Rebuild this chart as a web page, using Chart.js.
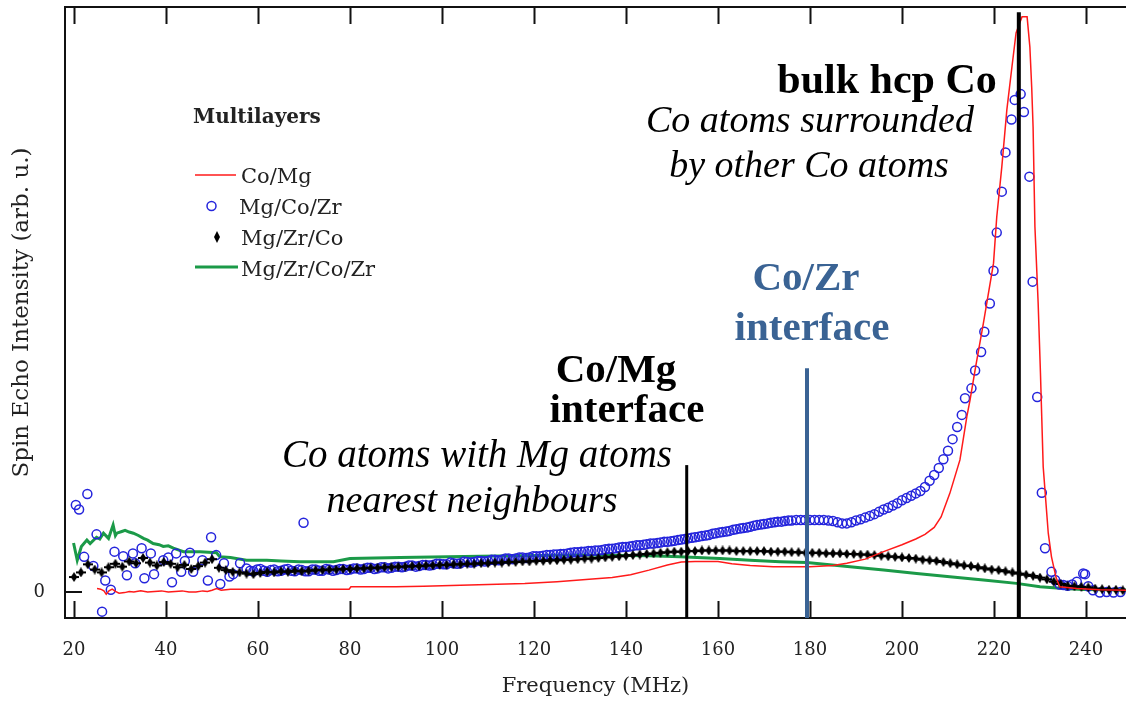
<!DOCTYPE html>
<html>
<head>
<meta charset="utf-8">
<title>Spin echo spectra of Co multilayers</title>
<script src="https://cdn.jsdelivr.net/npm/chart.js@4.4.1/dist/chart.umd.min.js"></script>
<style>
  html, body { margin: 0; padding: 0; background: #fff; }
  #wrap { width: 1126px; height: 701px; }
</style>
</head>
<body>
<div id="wrap"><canvas id="nmr" width="1126" height="701"></canvas></div>
<script>
// axis ticks
const xTicks = [20, 40, 60, 80, 100, 120, 140, 160, 180, 200, 220, 240];
const yTicks = [0];

// Co/Mg (red line), [MHz, intensity]
const coMg = [
  [25, 0.6], [25.8, 0.5], [26.5, 0.2], [27, -0.4], [27.6, 0.2], [28.3, 0.5], [29, 0.1], [29.8, -0.2],
  [31, -0.1], [32, 0.1], [33, 0], [34.5, 0.2], [36, 0], [37.5, 0.1], [39, 0.2], [40.5, 0], [42, 0.1],
  [43.5, 0.2], [45, 0], [46.5, 0], [48, 0.2], [49, 0.1], [50, 0.3], [51, 0.6], [52, 0.3], [53, 0.4],
  [54, 0.5], [60, 0.5], [70, 0.5], [79.8, 0.5], [80.2, 0.9], [90, 0.9], [96, 1.0], [100, 1.1],
  [110, 1.3], [118, 1.5], [125, 1.8], [132, 2.2], [137, 2.5], [141, 3.0], [145, 3.8], [149, 4.7],
  [152, 5.2], [155, 5.3], [160, 5.3], [163, 4.9], [167, 4.6], [172, 4.4], [180, 4.4], [185, 4.6],
  [188, 5.0], [192, 5.7], [196, 7.0], [200, 8.2], [203, 9.2], [205, 10.0], [207, 11.2], [208.5, 13.0],
  [210.4, 17.1], [212.6, 22.9], [214.1, 30.4], [214.8, 33.3], [216, 39], [217.7, 46.6], [219.9, 57.0],
  [220.6, 65.0], [221.7, 73.7], [222.8, 83.6], [223.9, 91.0], [224.8, 96.9], [226.1, 99.7], [227.2, 99.7],
  [227.8, 94.5], [228.2, 87.5], [228.5, 80.6], [228.9, 63.3], [229.6, 50.1], [230.1, 38.0], [230.7, 21.7],
  [231.8, 10.2], [232.5, 6.1], [233.5, 2.5], [234.3, 0.9], [238, 0.6], [243, 0.4], [248.7, 0.3]
];

// Mg/Co/Zr (blue circles), [MHz, intensity]
const mgCoZr = [
  [20.4, 15.1], [21.1, 14.3], [22.2, 6.1], [22.9, 17.0], [24.2, 4.5], [24.9, 10.0], [26.1, -3.4],
  [26.8, 2.0], [28.0, 0.4], [28.8, 7.0], [30.7, 6.2], [31.5, 2.9], [32.8, 6.7], [33.3, 5.0], [34.7, 7.6],
  [35.3, 2.4], [36.7, 6.7], [37.4, 3.1], [39.4, 5.5], [40.5, 6.0], [41.3, 1.7], [42.2, 6.7], [43.3, 3.5],
  [44.1, 5.4], [45.2, 6.8], [45.9, 3.5], [47.9, 5.5], [49.1, 2.0], [49.8, 9.5], [50.9, 6.4], [51.8, 1.4],
  [52.6, 5.0], [53.8, 2.7], [54.6, 3.1], [56.1, 5.0], [57.5, 4.1],
  [58.3, 3.7], [59, 3.6], [59.8, 3.9], [60.5, 4.0], [61.3, 3.7], [62, 3.5], [62.8, 3.8], [63.5, 3.9],
  [64.3, 3.6], [65, 3.7], [65.8, 3.9], [66.5, 4.0], [67.3, 3.7], [68, 3.6], [68.8, 3.9], [69.5, 3.8],
  [69.9, 12.0], [70.3, 3.6], [71, 3.6], [71.8, 3.9], [72.5, 3.9], [73.3, 3.7], [74, 3.7], [74.8, 4.0],
  [75.5, 3.9], [76.3, 3.7], [77, 3.8], [77.8, 4.0], [78.5, 4.0], [79.3, 3.8], [80, 3.9], [80.8, 4.1],
  [81.5, 4.1], [82.3, 3.9], [83, 4.0], [83.8, 4.2], [84.5, 4.2], [85.3, 4.0], [86, 4.1], [86.8, 4.3],
  [87.5, 4.3], [88.3, 4.1], [89, 4.2], [89.8, 4.4], [90.5, 4.4], [91.3, 4.3], [92, 4.4], [92.8, 4.6],
  [93.5, 4.6], [94.3, 4.4], [95, 4.5], [95.8, 4.7], [96.5, 4.7], [97.3, 4.6], [98, 4.7], [98.8, 4.9],
  [99.5, 4.9], [100.3, 4.8], [101, 4.8], [101.8, 5.1], [102.5, 5.0], [103.3, 4.9], [104, 5.0], [104.8, 5.3],
  [105.5, 5.2], [106.3, 5.1], [107, 5.2], [107.8, 5.4], [108.5, 5.4], [109.3, 5.3], [110, 5.4], [110.8, 5.6],
  [111.5, 5.6], [112.3, 5.5], [113, 5.6], [113.8, 5.8], [114.5, 5.8], [115.3, 5.7], [116, 5.8], [116.8, 6.0],
  [117.5, 6.0], [118.3, 5.9], [119, 6.0], [119.8, 6.2], [120.5, 6.2], [121.3, 6.2], [122, 6.3], [122.8, 6.4],
  [123.5, 6.4], [124.3, 6.5], [125, 6.5], [125.8, 6.6], [126.5, 6.6], [127.3, 6.7], [128, 6.8], [128.8, 6.9],
  [129.5, 6.9], [130.3, 7.0], [131, 7.0], [131.8, 7.1], [132.5, 7.1], [133.3, 7.2], [134, 7.2], [134.8, 7.3],
  [135.5, 7.4], [136.3, 7.5], [137, 7.5], [137.8, 7.6], [138.5, 7.7], [139.3, 7.8], [140, 7.8], [140.8, 7.9],
  [141.5, 8.0], [142.3, 8.1], [143, 8.1], [143.8, 8.2], [144.5, 8.3], [145.3, 8.4], [146, 8.4], [146.8, 8.5],
  [147.5, 8.6], [148.3, 8.7], [149, 8.7], [149.8, 8.8], [150.5, 8.9], [151.3, 9.0], [152, 9.1], [152.8, 9.2],
  [153.5, 9.3], [154.3, 9.4], [155, 9.5], [155.8, 9.6], [156.5, 9.7], [157.3, 9.8], [158, 9.9], [158.8, 10.1],
  [159.5, 10.2], [160.3, 10.3], [161, 10.4], [161.8, 10.5], [162.5, 10.6], [163.3, 10.8], [164, 10.9],
  [164.8, 11.0], [165.5, 11.1], [166.3, 11.2], [167, 11.3], [167.8, 11.5], [168.5, 11.6], [169.3, 11.7],
  [170, 11.8], [170.8, 11.9], [171.5, 12.0], [172.3, 12.1], [173, 12.2], [173.8, 12.2], [174.5, 12.3],
  [175.3, 12.4], [176, 12.4], [177, 12.5], [178, 12.5], [179, 12.5], [180, 12.5], [181, 12.5], [182, 12.5],
  [183, 12.5], [184, 12.4], [185, 12.3], [186, 12.1], [187, 11.9], [188, 11.9], [189, 12.1], [190, 12.4],
  [191, 12.6], [192, 12.9], [193, 13.2], [194, 13.5], [195, 13.9], [196, 14.3], [197, 14.6], [198, 15.0],
  [199, 15.4], [200, 15.9], [201, 16.3], [202, 16.7], [203, 17.1], [204, 17.5], [205, 18.2], [206, 19.3],
  [207, 20.3], [208, 21.5], [209, 23.0], [210, 24.5], [211, 26.5], [212, 28.6], [213, 30.7],
  [213.7, 33.6], [215.1, 35.3], [215.9, 38.4], [217.2, 41.6], [217.9, 45.1], [219.1, 50.0], [219.9, 55.7],
  [220.6, 62.3], [221.7, 69.4], [222.5, 76.2], [223.8, 81.9], [224.5, 85.3], [225.8, 86.3], [226.5, 83.2],
  [227.7, 72.0], [228.4, 53.8], [229.4, 33.8], [230.4, 17.2], [231.1, 7.6], [232.5, 3.5], [233.3, 2.1],
  [234.3, 1.3], [235.1, 1.2], [236, 1.1], [237, 1.3], [238, 1.8], [239.4, 3.2], [239.8, 3.1], [240.5, 1.0],
  [241.5, 0.3], [243, -0.1], [244.5, 0], [246, -0.1], [247.5, 0]
];

// Mg/Zr/Co (black diamonds), sampled on a 1.5 MHz grid
const freqGrid = [
  20, 21.5, 23, 24.5, 26, 27.5, 29, 30.5, 32, 33.5, 35, 36.5, 38, 39.5, 41, 42.5, 44, 45.5, 47, 48.5,
  50, 51.5, 53, 54.5, 56, 57.5, 59, 60.5, 62, 63.5, 65, 66.5, 68, 69.5, 71, 72.5, 74, 75.5, 77, 78.5,
  80, 81.5, 83, 84.5, 86, 87.5, 89, 90.5, 92, 93.5, 95, 96.5, 98, 99.5, 101, 102.5, 104, 105.5, 107, 108.5,
  110, 111.5, 113, 114.5, 116, 117.5, 119, 120.5, 122, 123.5, 125, 126.5, 128, 129.5, 131, 132.5, 134, 135.5, 137, 138.5,
  140, 141.5, 143, 144.5, 146, 147.5, 149, 150.5, 152, 153.5, 155, 156.5, 158, 159.5, 161, 162.5, 164, 165.5, 167, 168.5,
  170, 171.5, 173, 174.5, 176, 177.5, 179, 180.5, 182, 183.5, 185, 186.5, 188, 189.5, 191, 192.5, 194, 195.5, 197, 198.5,
  200, 201.5, 203, 204.5, 206, 207.5, 209, 210.5, 212, 213.5, 215, 216.5, 218, 219.5, 221, 222.5, 224, 225.5, 227, 228.5,
  230, 231.5, 233, 234.5, 236, 237.5, 239, 240.5, 242, 243.5, 245, 246.5, 248
];
const mgZrCo = [
  2.6, 3.4, 4.8, 3.9, 3.4, 4.3, 4.9, 4.4, 5.3, 5.0, 5.9, 5.1, 4.6, 5.2, 4.9, 4.3, 4.7, 4.0, 4.5, 5.1,
  5.7, 4.2, 3.8, 3.5, 3.4, 3.2, 3.1, 3.3, 3.5, 3.4, 3.6, 3.5, 3.7, 3.6, 3.7, 3.8, 3.8, 3.9, 3.9, 4.0,
  4.0, 4.1, 4.1, 4.2, 4.2, 4.3, 4.3, 4.4, 4.4, 4.5, 4.5, 4.6, 4.6, 4.7, 4.7, 4.8, 4.8, 4.9, 4.9, 5.0,
  5.0, 5.1, 5.1, 5.2, 5.2, 5.3, 5.3, 5.4, 5.4, 5.5, 5.5, 5.6, 5.6, 5.7, 5.8, 5.8, 5.9, 6.0, 6.1, 6.2,
  6.3, 6.4, 6.5, 6.6, 6.7, 6.8, 6.9, 7.0, 7.0, 7.1, 7.1, 7.2, 7.2, 7.2, 7.2, 7.2, 7.1, 7.1, 7.1, 7.1,
  7.1, 7.0, 7.0, 7.0, 6.9, 6.9, 6.8, 6.8, 6.8, 6.7, 6.7, 6.7, 6.6, 6.6, 6.5, 6.5, 6.4, 6.3, 6.2, 6.1,
  6.0, 5.9, 5.8, 5.6, 5.5, 5.4, 5.2, 5.0, 4.8, 4.6, 4.5, 4.3, 4.1, 3.9, 3.8, 3.6, 3.4, 3.2, 3.0, 2.8,
  2.5, 2.2, 1.8, 1.4, 1.1, 1.0, 0.9, 0.8, 0.6, 0.5, 0.4, 0.4, 0.3
];

// Mg/Zr/Co/Zr (green line), [MHz, intensity]
const mgZrCoZr = [
  [19.9, 8.5], [20.7, 5.5], [21.6, 7.9], [22.8, 9.0], [23.5, 8.4], [24.9, 9.5], [25.6, 9.2], [26.4, 10.2],
  [27.5, 9.3], [28.5, 11.6], [29.0, 9.8], [29.3, 10.2], [30.4, 10.5], [31.1, 10.7], [32.0, 10.4], [32.9, 10.2],
  [34.0, 9.8], [35.1, 9.3], [36.0, 9.0], [37.2, 8.4], [38.5, 8.2], [39.4, 7.9], [40.5, 8.0], [41.6, 7.6],
  [43.8, 7.0], [47.4, 7.0], [51.0, 6.8], [51.7, 6.1], [54, 6.0], [57.5, 5.5], [61.9, 5.5], [65, 5.4],
  [69.1, 5.25], [76.4, 5.25], [80, 5.8], [90.9, 6.0], [108.3, 6.2], [130, 6.4], [145, 6.3], [151.7, 6.1],
  [160.4, 5.8], [167, 5.5], [173.5, 5.25], [179.3, 5.1], [188.7, 4.4], [196, 3.8], [203.2, 3.2],
  [210.4, 2.65], [217.7, 2.1], [224.9, 1.5], [230, 0.9], [235.1, 0.6], [239.4, 0.45], [248.7, 0.35]
];

// marker lines: [MHz, top intensity, colour, width]
const markerLines = [
  [153.2, 22.0, '#000000', 3],
  [179.35, 38.8, '#3a6394', 4],
  [225.4, 100.5, '#000000', 4]
];

const BLUE = '#2424dc';
const RED = '#ff1a1a';
const GREEN = '#1b9a48';
const SERIF = '"DejaVu Serif", serif';
const TIMES = '"Liberation Serif", "Times New Roman", serif';

const toXY = pairs => pairs.map(p => ({ x: p[0], y: p[1] }));

// narrow filled diamond, optionally crossed by a short bar
function makeDiamond(w, h, bar) {
  const c = document.createElement('canvas');
  c.width = w; c.height = h;
  const g = c.getContext('2d');
  g.fillStyle = '#000';
  const dw = bar ? w * 0.65 : w;
  g.beginPath();
  g.moveTo(w / 2, 0);
  g.lineTo(w / 2 + dw / 2, h / 2);
  g.lineTo(w / 2, h);
  g.lineTo(w / 2 - dw / 2, h / 2);
  g.closePath();
  g.fill();
  if (bar) g.fillRect(0, h / 2 - 1, w, 2);
  return c;
}
const diamond = makeDiamond(10, 10, true);
const legendDiamond = makeDiamond(6, 12, false);

// frame, inward ticks, marker lines, labels and legend
const decorations = {
  id: 'decorations',
  afterDatasetsDraw(chart) {
    const { ctx, chartArea: a, scales } = chart;
    const xs = scales.x, ys = scales.y;
    ctx.save();
    ctx.strokeStyle = '#111';
    ctx.lineWidth = 2;
    ctx.beginPath();
    ctx.moveTo(a.left - 1, a.top);
    ctx.lineTo(a.right, a.top);
    xTicks.forEach(v => {
      const px = Math.round(xs.getPixelForValue(v)) + 0.5;
      ctx.moveTo(px, a.bottom);
      ctx.lineTo(px, a.bottom - 17);
      ctx.moveTo(px, a.top);
      ctx.lineTo(px, a.top + 17);
    });
    yTicks.forEach(v => {
      const py = Math.round(ys.getPixelForValue(v));
      ctx.moveTo(a.left, py);
      ctx.lineTo(a.left + 17, py);
    });
    ctx.stroke();

    markerLines.forEach(([f, top, color, w]) => {
      const px = xs.getPixelForValue(f);
      ctx.strokeStyle = color;
      ctx.lineWidth = w;
      ctx.beginPath();
      ctx.moveTo(px, ys.getPixelForValue(top));
      ctx.lineTo(px, a.bottom);
      ctx.stroke();
    });
    ctx.restore();
  },
  afterDraw(chart) {
    const ctx = chart.ctx;
    ctx.save();
    ctx.textAlign = 'center';
    ctx.textBaseline = 'alphabetic';

    const label = (text, x, y, font, color) => {
      ctx.font = font;
      ctx.fillStyle = color || '#000';
      ctx.fillText(text, x, y);
    };
    const bold = 'bold 41px ' + TIMES;
    const ital = 'italic 38px ' + TIMES;
    label('bulk hcp Co', 887, 93, 'bold 42px ' + TIMES);
    label('Co atoms surrounded', 810, 132, ital);
    label('by other Co atoms', 809, 177, ital);
    label('Co/Zr', 806, 290, bold, '#3a6394');
    label('interface', 812, 340, bold, '#3a6394');
    label('Co/Mg', 616, 382, bold);
    label('interface', 627, 422, bold);
    label('Co atoms with Mg atoms', 477, 467, 'italic 39px ' + TIMES);
    label('nearest neighbours', 472, 512, ital);

    // legend
    ctx.textAlign = 'left';
    label('Multilayers', 193, 123, 'bold 20px ' + SERIF, '#222');
    const itemFont = '21px ' + SERIF;
    const ds = chart.data.datasets;
    ctx.strokeStyle = ds[0].borderColor;
    ctx.lineWidth = 1.5;
    ctx.beginPath(); ctx.moveTo(195, 175); ctx.lineTo(236, 175); ctx.stroke();
    label(ds[0].label, 241, 183, itemFont, '#222');

    ctx.strokeStyle = ds[1].pointBorderColor;
    ctx.lineWidth = 1.5;
    ctx.beginPath(); ctx.arc(211.5, 206, 4.5, 0, Math.PI * 2); ctx.stroke();
    label(ds[1].label, 239, 214, itemFont, '#222');

    ctx.drawImage(legendDiamond, 214, 231);
    label(ds[2].label, 241, 245, itemFont, '#222');

    ctx.strokeStyle = ds[3].borderColor;
    ctx.lineWidth = 3;
    ctx.beginPath(); ctx.moveTo(195, 267); ctx.lineTo(238, 267); ctx.stroke();
    label(ds[3].label, 241, 276, itemFont, '#222');
    ctx.restore();
  }
};

new Chart(document.getElementById('nmr'), {
  type: 'scatter',
  data: {
    datasets: [
      {
        label: 'Co/Mg',
        data: toXY(coMg),
        showLine: true,
        borderColor: RED,
        borderWidth: 1.5,
        pointRadius: 0,
        order: 0
      },
      {
        label: 'Mg/Co/Zr',
        data: toXY(mgCoZr),
        pointStyle: 'circle',
        pointRadius: 4.5,
        pointBorderWidth: 1.5,
        pointBorderColor: BLUE,
        pointBackgroundColor: 'rgba(0,0,0,0)',
        order: 2
      },
      {
        label: 'Mg/Zr/Co',
        data: freqGrid.map((f, i) => ({ x: f, y: mgZrCo[i] })),
        pointStyle: diamond,
        pointRadius: 4,
        order: 1
      },
      {
        label: 'Mg/Zr/Co/Zr',
        data: toXY(mgZrCoZr),
        showLine: true,
        borderColor: GREEN,
        borderWidth: 3,
        pointRadius: 0,
        order: 3
      }
    ]
  },
  options: {
    responsive: false,
    devicePixelRatio: 1,
    animation: false,
    events: [],
    layout: { autoPadding: false, padding: { top: 7, right: 0, left: 0, bottom: 0 } },
    plugins: {
      legend: { display: false },
      tooltip: { enabled: false }
    },
    scales: {
      x: {
        type: 'linear',
        bounds: 'data',
        min: 18.04,
        max: 248.7,
        afterBuildTicks: s => { s.ticks = xTicks.map(v => ({ value: v })); },
        afterFit: s => { s.height = 83; s.paddingLeft = 0; s.paddingRight = 0; },
        grid: { display: false },
        border: { display: true, color: '#111', width: 2 },
        ticks: { color: '#222', padding: 14, font: { family: SERIF, size: 18 } },
        title: {
          display: true,
          text: 'Frequency (MHz)',
          color: '#222',
          padding: { top: 0, bottom: 2 },
          font: { family: SERIF, size: 21 }
        }
      },
      y: {
        type: 'linear',
        bounds: 'data',
        min: -4.5,
        max: 101.4,
        afterBuildTicks: s => { s.ticks = yTicks.map(v => ({ value: v })); },
        afterFit: s => { s.width = 65; s.paddingTop = 0; s.paddingBottom = 0; },
        grid: { display: false },
        border: { display: true, color: '#111', width: 2 },
        ticks: { color: '#222', padding: 12, font: { family: SERIF, size: 18 } },
        title: {
          display: true,
          text: 'Spin Echo Intensity (arb. u.)',
          color: '#222',
          padding: { top: 8, bottom: 0 },
          font: { family: SERIF, size: 23 }
        }
      }
    }
  },
  plugins: [decorations]
});
</script>
</body>
</html>
